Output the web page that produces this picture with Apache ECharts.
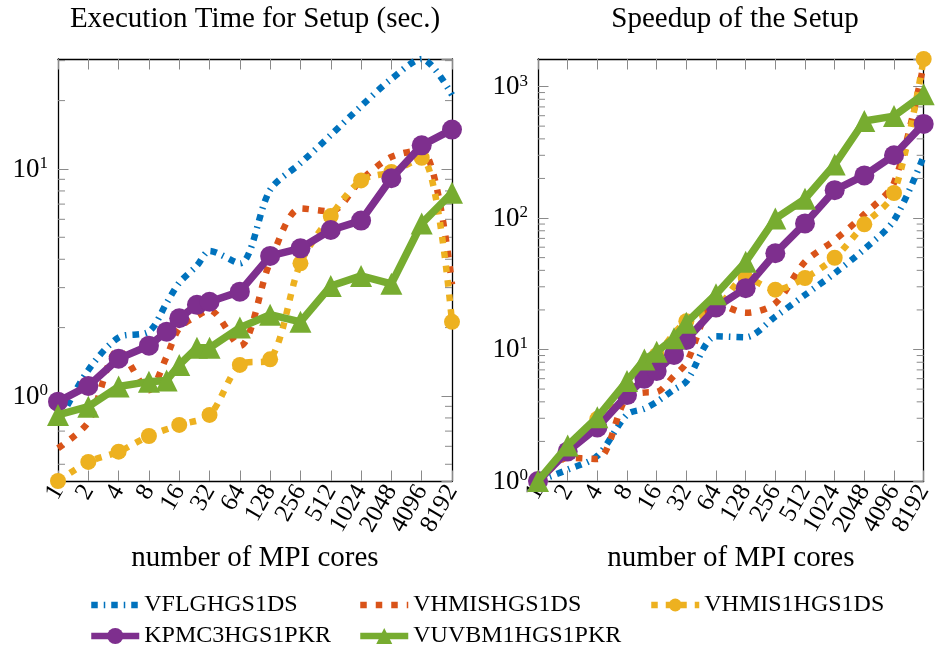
<!DOCTYPE html>
<html><head><meta charset="utf-8">
<script src="https://cdn.jsdelivr.net/npm/echarts@6/dist/echarts.min.js"></script>
<style>html,body{margin:0;padding:0;background:#fff}#c{width:936px;height:649px}</style>
</head><body><div id="c"></div>
<script>
// ---- data ----
const cores = [1, 2, 4, 8, 12, 16, 24, 32, 64, 128, 256, 512, 1024, 2048, 4096, 8192];
const seriesNames = ['VFLGHGS1DS', 'VHMISHGS1DS', 'VHMIS1HGS1DS', 'KPMC3HGS1PKR', 'VUVBM1HGS1PKR'];
const titles = ['Execution Time for Setup (sec.)', 'Speedup of the Setup'];
const xAxisTitle = 'number of MPI cores';

// execution time (sec.)
const timeVFLG   = [0.76, 1.30, 1.81, 1.92, 2.57, 3.15, 3.75, 4.35, 3.84, 8.09, 10.6, 14.1, 18.9, 24.9, 30.5, 21.2];
const timeVHMIS  = [0.588, 0.768, 1.59, 1.06, 1.49, 1.99, 2.25, 2.39, 1.66, 3.9, 6.7, 6.5, 8.94, 11.3, 12.1, 3.1];
const timeVHMIS1 = [0.422, 0.512, 0.568, 0.666, null, 0.745, null, 0.825, 1.37, 1.45, 3.84, 6.2, 8.9, 9.7, 11.2, 2.12];
const timeKPMC3  = [0.944, 1.107, 1.46, 1.665, 1.92, 2.20, 2.52, 2.60, 2.88, 4.14, 4.47, 5.38, 5.92, 9.1, 12.7, 14.9];
const timeVUVBM1 = [0.825, 0.897, 1.10, 1.156, 1.17, 1.37, 1.63, 1.63, 2.0, 2.28, 2.12, 3.05, 3.38, 3.12, 5.75, 7.85];

// speedup
const speedVFLG   = [1, 1.22, 1.55, 3.2, 3.55, 4.0, 4.95, 5.7, 12.6, 12.4, 17.8, 26, 38, 58, 96, 295];
const speedVHMIS  = [1, 1.5, 1.47, 4.4, 4.7, 4.75, 6.3, 7.9, 22.5, 19, 22.5, 46.5, 68, 107, 185, 1480];
const speedVHMIS1 = [1, 1.65, 2.97, 5.07, null, 9.06, null, 16.4, 20.2, 35, 28.5, 35, 49.9, 89.5, 155, 1620];
const speedKPMC3  = [1, 1.68, 2.55, 4.5, 6.0, 6.85, 9.1, 11.8, 20.9, 29.3, 54, 91, 163, 211, 300, 520];
const speedVUVBM1 = [1, 1.86, 3.05, 5.75, 8.4, 9.6, 12.2, 16.0, 26.3, 46.5, 99, 140, 255, 547, 596, 872];

// axis ranges and minor ticks
const xRange = [1, 8192];
const timeRange = [0.422, 30.5];
const speedRange = [1, 1620];
const minorTicksTime = [0.5, 0.6, 0.7, 0.8, 0.9, 2, 3, 4, 5, 6, 7, 8, 9, 20, 30];
const minorTicksSpeed = [2, 3, 4, 5, 6, 7, 8, 9, 20, 30, 40, 50, 60, 70, 80, 90, 200, 300, 400, 500, 600, 700, 800, 900];

// ---- chart ----
const FONT = 'Liberation Serif';
const colors = ['#0072BD', '#D95319', '#EDB120', '#7E2F8E', '#77AC30'];
const styles = [
  {symbol: 'none', lineStyle: {width: 6.5, type: [6.5, 6, 1.5, 6], cap: 'butt'}, smooth: 0.3},
  {symbol: 'none', lineStyle: {width: 6.5, type: [6.5, 9], cap: 'butt'}, smooth: 0.3},
  {symbol: 'circle', symbolSize: 16, lineStyle: {width: 6.5, type: [6.5, 8], cap: 'butt'}, smooth: 0.3},
  {symbol: 'circle', symbolSize: 20, lineStyle: {width: 7.5}, smooth: false},
  {symbol: 'triangle', symbolSize: 22, lineStyle: {width: 7.5}, smooth: false}
];
const timeData = [timeVFLG, timeVHMIS, timeVHMIS1, timeKPMC3, timeVUVBM1];
const speedData = [speedVFLG, speedVHMIS, speedVHMIS1, speedKPMC3, speedVUVBM1];

function pairs(xs, ys) {
  const out = [];
  xs.forEach((x, i) => { if (ys[i] != null) out.push([x, ys[i]]); });
  return out;
}

const tickStyle = {show: true, inside: true, length: 10.5, lineStyle: {color: '#8a8a8a', width: 1}};
const lineAxis = {show: true, lineStyle: {color: '#000', width: 1.3}};

function xAx(grid, pos, labels) {
  return {
    type: 'log', logBase: 2, gridIndex: grid, position: pos, min: xRange[0], max: xRange[1],
    splitNumber: 13, interval: 1,
    axisLine: lineAxis, axisTick: tickStyle, splitLine: {show: false},
    axisLabel: labels ? {
      show: true, rotate: 60, margin: 6, fontFamily: FONT, fontSize: 25, color: '#000',
      showMinLabel: true, showMaxLabel: true, hideOverlap: false,
      formatter: v => String(Math.round(v))
    } : {show: false},
    name: labels ? xAxisTitle : '', nameLocation: 'middle', nameGap: 58,
    nameTextStyle: {fontFamily: FONT, fontSize: 29, color: '#000'}
  };
}
function supLabel(v) {
  const e = Math.round(Math.log10(v));
  return '{b|10}{s|' + e + '}';
}
function yAx(grid, pos, range, labels, showMin) {
  return {
    type: 'log', logBase: 10, gridIndex: grid, position: pos, min: range[0], max: range[1],
    axisLine: lineAxis, axisTick: tickStyle, splitLine: {show: false},
    axisLabel: labels ? {
      show: true, margin: 10, showMinLabel: showMin, showMaxLabel: false, color: '#000',
      formatter: supLabel,
      rich: {
        b: {fontFamily: FONT, fontSize: 27, color: '#000', verticalAlign: 'bottom'},
        s: {fontFamily: FONT, fontSize: 17, color: '#000', verticalAlign: 'bottom', padding: [0, 0, 11, 0]}
      }
    } : {show: false}
  };
}

function minorSeries(xi, yi, vals) {
  return {
    type: 'custom', xAxisIndex: xi, yAxisIndex: yi, silent: true, z: 1, clip: false,
    data: vals.map(v => [xRange[0], v]),
    renderItem(params, api) {
      const v = api.value(1);
      const p0 = api.coord([xRange[0], v]);
      const p1 = api.coord([xRange[1], v]);
      return {type: 'group', children: [
        {type: 'line', shape: {x1: p0[0], y1: p0[1], x2: p0[0] + 7, y2: p0[1]}, style: {stroke: '#8a8a8a', lineWidth: 1}},
        {type: 'line', shape: {x1: p1[0] - 7, y1: p1[1], x2: p1[0], y2: p1[1]}, style: {stroke: '#8a8a8a', lineWidth: 1}}
      ]};
    }
  };
}

const series = [];
[timeData, speedData].forEach((set, panel) => {
  set.forEach((ys, i) => {
    series.push(Object.assign({
      name: seriesNames[i], type: 'line', xAxisIndex: panel * 2, yAxisIndex: panel * 2,
      data: pairs(cores, ys), color: colors[i], itemStyle: {color: colors[i]},
      showSymbol: styles[i].symbol !== 'none', z: 2 + i, animation: false, clip: true
    }, styles[i], {lineStyle: Object.assign({color: colors[i]}, styles[i].lineStyle)}));
  });
});
series.push(minorSeries(0, 0, minorTicksTime));
series.push(minorSeries(2, 2, minorTicksSpeed));

const legendPos = [[88, 593], [357, 593], [648, 593], [88, 624], [357, 624]];
const legendSymbolH = [20, 20, 16, 20, 20];

const option = {
  animation: false,
  backgroundColor: '#fff',
  title: [
    {text: titles[0], left: 255, top: 5, textAlign: 'center', padding: 0,
     textStyle: {fontFamily: FONT, fontSize: 29, fontWeight: 'normal', color: '#000'}},
    {text: titles[1], left: 735, top: 5, textAlign: 'center', padding: 0,
     textStyle: {fontFamily: FONT, fontSize: 29, fontWeight: 'normal', color: '#000'}}
  ],
  grid: [
    {left: 58, top: 59, width: 394, height: 422},
    {left: 538, top: 59, width: 394, height: 422}
  ],
  xAxis: [xAx(0, 'bottom', true), xAx(0, 'top', false), xAx(1, 'bottom', true), xAx(1, 'top', false)],
  yAxis: [
    yAx(0, 'left', timeRange, true, false), yAx(0, 'right', timeRange, false, false),
    yAx(1, 'left', speedRange, true, true), yAx(1, 'right', speedRange, false, false)
  ],
  legend: legendPos.map((p, i) => ({
    data: [seriesNames[i]], left: p[0], top: p[1], padding: 0, itemWidth: 48, itemHeight: legendSymbolH[i],
    lineStyle: {width: 6.5},
    itemStyle: styles[i].symbol === 'none' ? {opacity: 0} : {},
    textStyle: {fontFamily: FONT, fontSize: 24, color: '#000'}, selectedMode: false
  })),
  series: series
};
const chart = echarts.init(document.getElementById('c'));
chart.setOption(option);
</script>
</body></html>
